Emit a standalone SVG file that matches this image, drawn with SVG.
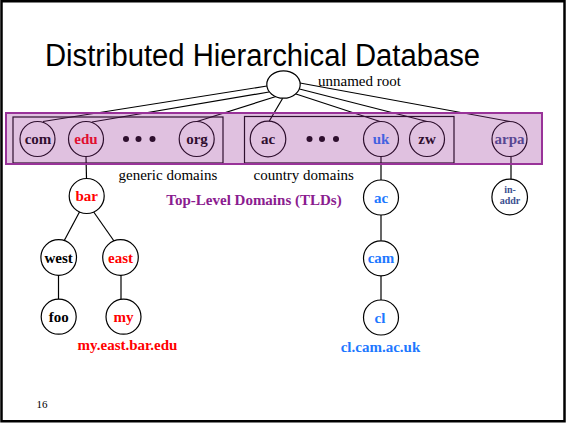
<svg xmlns="http://www.w3.org/2000/svg" width="566" height="425" viewBox="0 0 566 425">
  <style>
    .node { fill: none; stroke: #000; stroke-width: 1.2; }
    .lone { fill: #fff; stroke: #000; stroke-width: 1.2; }
    .edge { stroke: #000; stroke-width: 1.2; fill: none; }
    .lbl { font-family: "Liberation Serif", "Times New Roman", serif; font-weight: bold; font-size: 15px; text-anchor: middle; }
    .note { font-family: "Liberation Serif", "Times New Roman", serif; font-size: 15px; fill: #000; }
    .red { fill: #ff0000; }
    .blue { fill: #1e78ff; }
    .slate { fill: #3c5090; }
    .blk { fill: #000; }
    .group { fill: none; stroke: #000; stroke-width: 1.2; }
  </style>

  <!-- slide frame -->
  <rect x="1.5" y="1.25" width="563" height="420" fill="#fff" stroke="#000" stroke-width="2.5"/>

  <text x="262.5" y="66" font-family="'Liberation Sans', Arial, sans-serif" font-size="31" text-anchor="middle" textLength="435" lengthAdjust="spacingAndGlyphs">Distributed Hierarchical Database</text>

  <!-- domain group boxes -->
  <rect id="generic-box" class="group" x="13" y="117" width="210" height="46"/>
  <rect id="country-box" class="group" x="244.5" y="116.5" width="209.5" height="46.5"/>

  <!-- connectors -->
  <g id="connectors" class="edge">
    <line x1="267" y1="86" x2="43" y2="121.5"/>
    <line x1="269" y1="92" x2="92" y2="122"/>
    <line x1="276" y1="96.5" x2="197" y2="121.5"/>
    <line x1="282.7" y1="98.3" x2="269.3" y2="121"/>
    <line x1="296" y1="94" x2="380" y2="121.5"/>
    <line x1="299.5" y1="89" x2="427" y2="121.5"/>
    <line x1="300" y1="83" x2="510" y2="121.5"/>
    <line x1="86" y1="156.5" x2="86.5" y2="178.5"/>
    <line x1="80" y1="211" x2="64" y2="241"/>
    <line x1="93" y1="211" x2="114" y2="241"/>
    <line x1="58.5" y1="275" x2="58.5" y2="299"/>
    <line x1="121" y1="275" x2="121" y2="299"/>
    <line x1="381" y1="156.5" x2="381" y2="180"/>
    <line x1="381" y1="215" x2="381" y2="240.8"/>
    <line x1="381" y1="276" x2="381" y2="300"/>
    <line x1="511" y1="156.5" x2="511" y2="179.5"/>
  </g>

  <!-- root -->
  <g id="root">
    <ellipse class="lone" cx="283.5" cy="84.5" rx="16.7" ry="13.7"/>
    <text class="note" x="318" y="86">unnamed root</text>
  </g>

  <!-- top-level domains -->
  <g id="com"><circle class="node" cx="37.5" cy="139" r="17.5"/><text class="lbl blk" x="38" y="144">com</text></g>
  <g id="edu"><circle class="node" cx="86" cy="139" r="17.5"/><text class="lbl red" x="86" y="144">edu</text></g>
  <g id="generic-more" class="blk"><circle cx="126" cy="139" r="3"/><circle cx="138.5" cy="139" r="3"/><circle cx="152.5" cy="139" r="3"/></g>
  <g id="org"><circle class="node" cx="196.7" cy="139" r="17.5"/><text class="lbl blk" x="197" y="144">org</text></g>
  <g id="ac-tld"><circle class="node" cx="268" cy="139" r="17.8"/><text class="lbl blk" x="268" y="144">ac</text></g>
  <g id="country-more" class="blk"><circle cx="309.5" cy="139" r="3"/><circle cx="322" cy="139" r="3"/><circle cx="336" cy="139" r="3"/></g>
  <g id="uk"><circle class="node" cx="381" cy="139" r="17.5"/><text class="lbl blue" x="381" y="144">uk</text></g>
  <g id="zw"><circle class="node" cx="427" cy="139" r="17.5"/><text class="lbl blk" x="427" y="144">zw</text></g>
  <g id="arpa"><circle class="node" cx="509.5" cy="139" r="17.5"/><text class="lbl slate" x="509.5" y="144">arpa</text></g>

  <!-- top-level domain band, tinting everything beneath it -->
  <rect id="tld-band" x="6" y="113" width="536" height="51" fill="#993399" fill-opacity="0.3" stroke="#993399" stroke-width="2"/>

  <text class="note" x="118.5" y="179.5">generic domains</text>
  <text class="note" x="253.5" y="179.5">country domains</text>
  <text x="254" y="205" font-family="'Liberation Serif', 'Times New Roman', serif" font-weight="bold" font-size="15" fill="#8b1c8f" text-anchor="middle">Top-Level Domains (TLDs)</text>

  <!-- edu subtree -->
  <g id="bar"><circle class="lone" cx="86.7" cy="196" r="17.5"/><text class="lbl red" x="86.7" y="201">bar</text></g>
  <g id="west"><circle class="lone" cx="58.7" cy="257.5" r="17.8"/><text class="lbl blk" x="58.7" y="262.5">west</text></g>
  <g id="east"><circle class="lone" cx="120.5" cy="257.5" r="17.8"/><text class="lbl red" x="120.5" y="262.5">east</text></g>
  <g id="foo"><circle class="lone" cx="58.7" cy="316.7" r="17.5"/><text class="lbl blk" x="58.7" y="321.7">foo</text></g>
  <g id="my"><circle class="lone" cx="123.5" cy="316.7" r="17.5"/><text class="lbl red" x="123.5" y="321.7">my</text></g>
  <text class="lbl red" x="127.5" y="350">my.east.bar.edu</text>

  <!-- uk subtree -->
  <g id="ac"><circle class="lone" cx="381" cy="197.5" r="17.5"/><text class="lbl blue" x="381" y="202.5">ac</text></g>
  <g id="cam"><circle class="lone" cx="381" cy="258.3" r="17.5"/><text class="lbl blue" x="381" y="263.3">cam</text></g>
  <g id="cl"><circle class="lone" cx="381" cy="317.5" r="17.5"/><text class="lbl blue" x="380" y="322.5">cl</text></g>
  <text class="lbl blue" x="380.5" y="351.5">cl.cam.ac.uk</text>

  <!-- arpa subtree -->
  <g id="in-addr">
    <circle class="lone" cx="509.7" cy="197" r="17.8"/>
    <text class="slate" x="510" y="192.7" font-family="'Liberation Serif', 'Times New Roman', serif" font-weight="bold" font-size="10" text-anchor="middle">in-</text>
    <text class="slate" x="510" y="203.5" font-family="'Liberation Serif', 'Times New Roman', serif" font-weight="bold" font-size="10" text-anchor="middle">addr</text>
  </g>

  <text x="36.5" y="408" font-family="'Liberation Serif', 'Times New Roman', serif" font-size="11">16</text>
</svg>
